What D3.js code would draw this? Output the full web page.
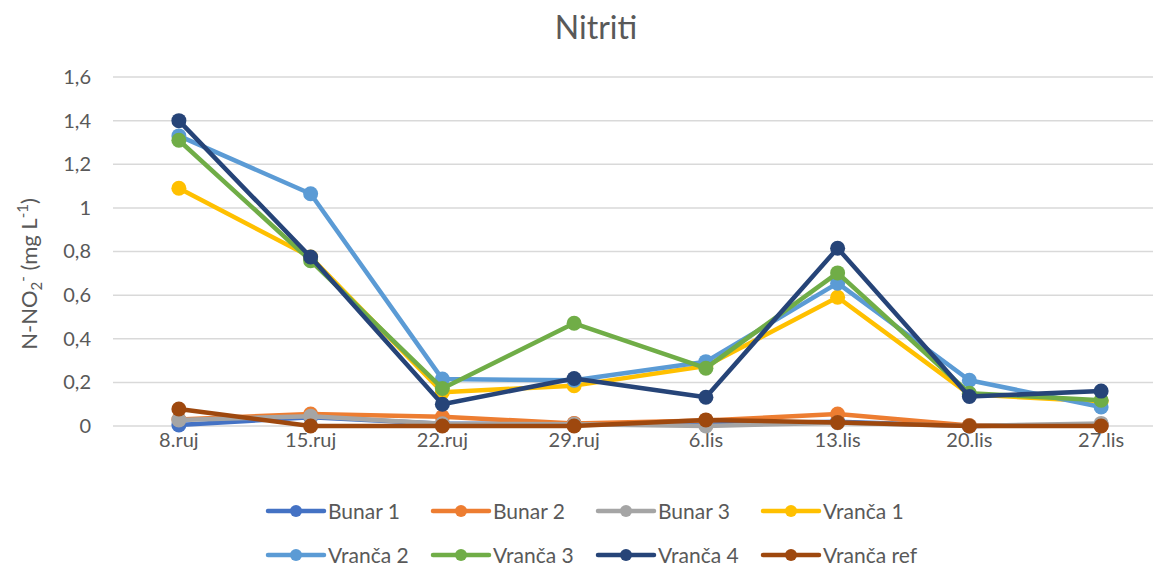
<!DOCTYPE html>
<html><head><meta charset="utf-8">
<script src="https://cdn.jsdelivr.net/npm/d3@7"></script>
<style>body{margin:0;background:#fff}svg{display:block}text{font-family:Lato,"Open Sans",sans-serif;fill:#595959}</style>
</head><body><svg id="c" width="1153" height="566"></svg>
<script>
const categories = ["8.ruj","15.ruj","22.ruj","29.ruj","6.lis","13.lis","20.lis","27.lis"];
const yTicks = [0,0.2,0.4,0.6,0.8,1,1.2,1.4,1.6];
const seriesNames = ["Bunar 1","Bunar 2","Bunar 3","Vranča 1","Vranča 2","Vranča 3","Vranča 4","Vranča ref"];
const seriesColors = ["#4472C4","#ED7D31","#A5A5A5","#FFC000","#5B9BD5","#70AD47","#264478","#9E480E"];
const bunar1   = [0.005,0.04,0.01,0.01,0.01,0.02,0.0,0.005];
const bunar2   = [0.03,0.055,0.042,0.012,0.025,0.055,0.002,0.005];
const bunar3   = [0.028,0.045,0.01,0.008,0.0,0.015,0.0,0.012];
const vranca1  = [1.09,0.775,0.155,0.185,0.275,0.59,0.145,0.112];
const vranca2  = [1.33,1.065,0.215,0.21,0.295,0.655,0.21,0.087];
const vranca3  = [1.31,0.758,0.172,0.471,0.265,0.702,0.15,0.118];
const vranca4  = [1.40,0.775,0.10,0.218,0.132,0.815,0.135,0.16];
const vrancaRef= [0.078,0.0,0.0,0.0,0.028,0.016,0.0,0.0];
const seriesValues = [bunar1,bunar2,bunar3,vranca1,vranca2,vranca3,vranca4,vrancaRef];

const svg = d3.select("#c");
const x = d3.scaleBand().domain(categories).range([113,1167]).padding(0);
const y = d3.scaleLinear().domain([0,1.6]).range([426,77]);

// gridlines
svg.append("g").selectAll("line").data(yTicks).join("line")
  .attr("x1",113).attr("x2",1167)
  .attr("y1",d=>y(d)).attr("y2",d=>y(d))
  .attr("stroke","#d9d9d9").attr("stroke-width",1.5);

// y axis labels
const fmt = d => String(d).replace(".",",");
const yAxis = d3.axisLeft(y).tickValues(yTicks).tickFormat(fmt).tickSize(0).tickPadding(0);
const ga = svg.append("g").attr("transform","translate(91,0)").call(yAxis);
ga.select(".domain").remove();
ga.selectAll("text").attr("font-size",20).attr("fill","#595959").style("font-family","Lato,'Open Sans',sans-serif");

// x axis labels
const xAxis = d3.axisBottom(x).tickSize(0).tickPadding(0);
const gx = svg.append("g").attr("transform","translate(0,433)").call(xAxis);
gx.select(".domain").remove();
gx.selectAll("text").attr("font-size",20).attr("fill","#595959").style("font-family","Lato,'Open Sans',sans-serif");

// title
svg.append("text").attr("x",596).attr("y",39).attr("text-anchor","middle")
  .attr("font-size",32).text("Nitriti");

// y label
const yl = svg.append("text").attr("transform","translate(37,274) rotate(-90)")
  .attr("text-anchor","middle").attr("font-size",22);
yl.append("tspan").text("N-NO");
yl.append("tspan").attr("font-size",15).attr("dy",5).text("2");
yl.append("tspan").attr("font-size",15).attr("dy",-14).text("-");
yl.append("tspan").attr("dy",9).text(" (mg L");
yl.append("tspan").attr("font-size",15).attr("dy",-9).text("-1");
yl.append("tspan").attr("dy",9).text(")");

// series
const line = d3.line().x((d,i)=>x(categories[i])+x.bandwidth()/2).y(d=>y(d));
seriesValues.forEach((vals,si)=>{
  const g = svg.append("g");
  g.append("path").attr("d",line(vals)).attr("fill","none")
    .attr("stroke",seriesColors[si]).attr("stroke-width",4.5).attr("stroke-linejoin","round");
  g.selectAll("circle").data(vals).join("circle")
    .attr("cx",(d,i)=>x(categories[i])+x.bandwidth()/2).attr("cy",d=>y(d))
    .attr("r",7.5).attr("fill",seriesColors[si]);
});

// legend
const legCols = [268,433,598,763];
const legRows = [511,555];
seriesNames.forEach((n,i)=>{
  const lx = legCols[i%4], ly = legRows[Math.floor(i/4)];
  const g = svg.append("g");
  g.append("line").attr("x1",lx).attr("x2",lx+56).attr("y1",ly).attr("y2",ly)
    .attr("stroke",seriesColors[i]).attr("stroke-width",4.5).attr("stroke-linecap","round");
  g.append("circle").attr("cx",lx+28).attr("cy",ly).attr("r",6).attr("fill",seriesColors[i]);
  g.append("text").attr("x",lx+60).attr("y",ly+7.5).attr("font-size",21).text(n);
});
</script></body></html>
